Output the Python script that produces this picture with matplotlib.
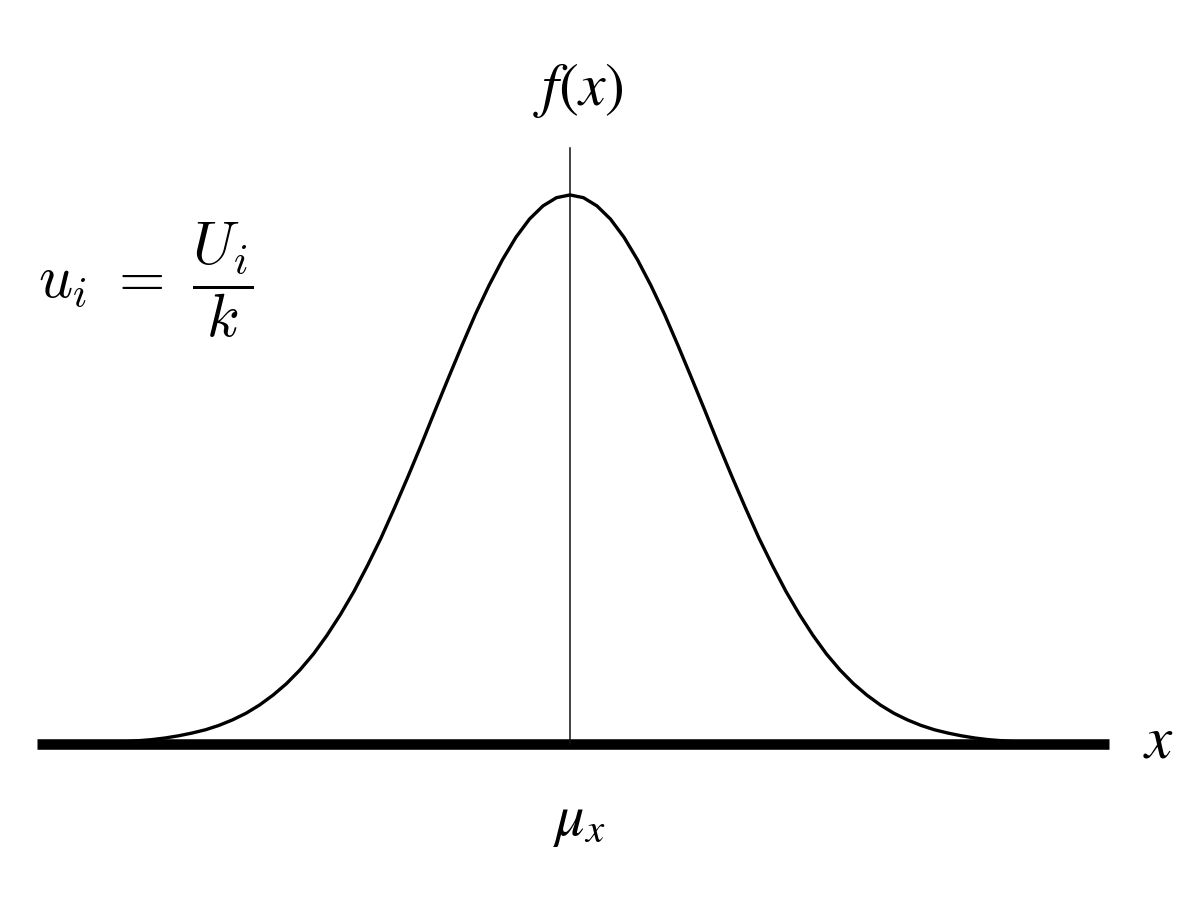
import numpy as np
import matplotlib
matplotlib.use("Agg")
import matplotlib.pyplot as plt

plt.rcParams['mathtext.fontset'] = 'stix'

# curve: x in units of sigma from mu, height relative to peak
half = [1.000, 0.995, 0.980, 0.956, 0.923, 0.882, 0.835, 0.783, 0.726, 0.667,
        0.607, 0.546, 0.487, 0.430, 0.375, 0.325, 0.278, 0.236, 0.198, 0.164,
        0.135, 0.110, 0.089, 0.071, 0.056, 0.044, 0.034, 0.026, 0.020, 0.015,
        0.011, 0.008, 0.006, 0.004, 0.003]
fx = half[:0:-1] + half
x = [round(-3.4 + 0.1 * i, 1) for i in range(len(fx))]
axis_ends = [-3.95, 3.99]
mu = 0.0
top_of_mu_line = 1.085

fig = plt.figure(figsize=(12, 9), dpi=100)
ax = fig.add_axes([0, 0, 1, 1])
ax.set_xlim(-4.222, 4.667)
ax.set_ylim(-0.284, 1.355)
ax.axis('off')

# thick x axis
ax.plot(axis_ends, [0, 0], color='black', lw=7.6, solid_capstyle='butt')
# mean line
ax.plot([mu, mu], [0, top_of_mu_line], color='#111111', lw=1.1)
# bell curve
ax.plot(x, fx, color='black', lw=2.4, solid_joinstyle='round')

ax.text(0.06, 1.19, r'$f(x)$', fontsize=43, ha='center', va='center')
ax.text(4.36, 0.005, r'$x$', fontsize=44, ha='center', va='center')
ax.text(0.07, -0.14, r'$\mu_x$', fontsize=42, ha='center', va='center')
ax.text(-3.14, 0.845, r'$u_i\ =\ \dfrac{U_i}{k}$', fontsize=43,
        ha='center', va='center', math_fontfamily='cm')

fig.savefig('out.png', dpi=100, facecolor='white')
